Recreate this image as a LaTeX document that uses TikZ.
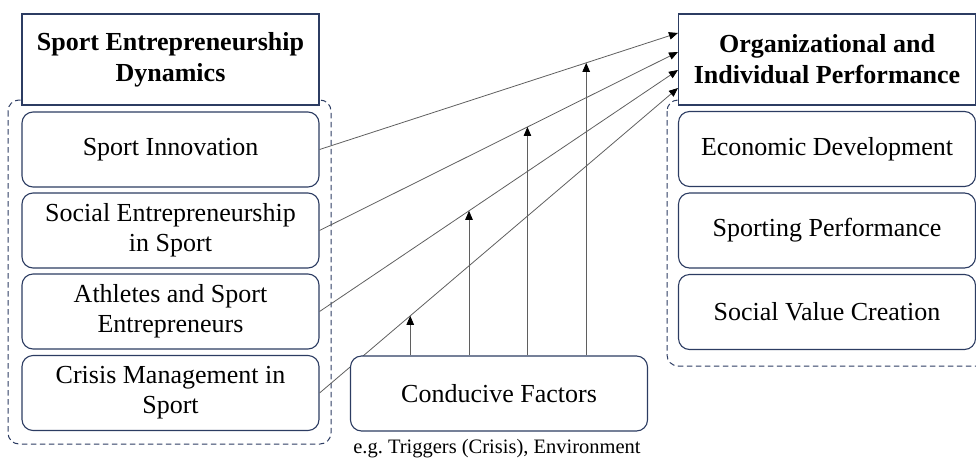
\documentclass[tikz,border=0pt]{standalone}
\usepackage{fontspec}
\setmainfont{Liberation Serif}
\usetikzlibrary{arrows.meta}
\definecolor{navy}{RGB}{44,60,98}
\definecolor{linkgray}{RGB}{95,95,95}
\begin{document}
\begin{tikzpicture}[x=1pt,y=-1pt,
  titlebox/.style={draw=navy,line width=1.1pt,fill=white,minimum width=297pt,minimum height=91pt,
    align=center,inner sep=0pt,font=\fontsize{26}{31}\selectfont\bfseries},
  itembox/.style={draw=navy,line width=1.1pt,fill=white,rounded corners=11pt,minimum width=297pt,
    minimum height=75pt,align=center,inner sep=0pt,font=\fontsize{26}{30}\selectfont},
  groupframe/.style={draw=navy,line width=1pt,dashed,dash pattern=on 5.5pt off 3.5pt,rounded corners=11pt},
  link/.style={draw=linkgray,line width=0.8pt,-{Triangle[length=9pt,width=7.5pt,color=black]}},
]
\useasboundingbox (0,0) rectangle (976,461);

% dashed group frames
\draw[groupframe] (8,100) rectangle (331,444);
\draw[groupframe] (667,100) rectangle (995,366);

% headers
\node[titlebox] (ltitle) at (170.5,59.5) {Sport Entrepreneurship\\Dynamics};
\node[titlebox] (rtitle) at (827,59.5) {Organizational and\\Individual Performance};

% dynamics
\node[itembox] (inno)   at (170.5,149.5) {Sport Innovation};
\node[itembox] (social) at (170.5,230.5) {Social Entrepreneurship\\in Sport};
\node[itembox] (athl)   at (170.5,311.5) {Athletes and Sport\\Entrepreneurs};
\node[itembox] (crisis) at (170.5,393)   {Crisis Management in\\Sport};

% performance outcomes
\node[itembox] (econ)   at (827,149)   {Economic Development};
\node[itembox] (sporting) at (827,230.5) {Sporting Performance};
\node[itembox] (value)  at (827,312)   {Social Value Creation};

% arrow targets on the performance header
\coordinate (t1) at (rtitle.west |- 0,33);
\coordinate (t2) at (rtitle.west |- 0,52);
\coordinate (t3) at (rtitle.west |- 0,70);
\coordinate (t4) at (rtitle.west |- 0,88);

% main links
\draw[link] (inno.east)   -- (t1) coordinate[pos=0.744] (m1);
\draw[link] (social.east) -- (t2) coordinate[pos=0.58]  (m2);
\draw[link] (athl.east)   -- (t3) coordinate[pos=0.417] (m3);
\draw[link] (crisis.east) -- (t4) coordinate[pos=0.253] (m4);

% moderator
\node[itembox] (cond) at (499,393.5) {Conducive Factors};
\node[font=\fontsize{20.5}{24}\selectfont,inner sep=0pt] (condnote) at (497,449)
  {e.g.\ Triggers (Crisis), Environment};

\draw[link] (cond.north -| m1) -- (m1);
\draw[link] (cond.north -| m2) -- (m2);
\draw[link] (cond.north -| m3) -- (m3);
\draw[link] (cond.north -| m4) -- (m4);
\end{tikzpicture}
\end{document}
